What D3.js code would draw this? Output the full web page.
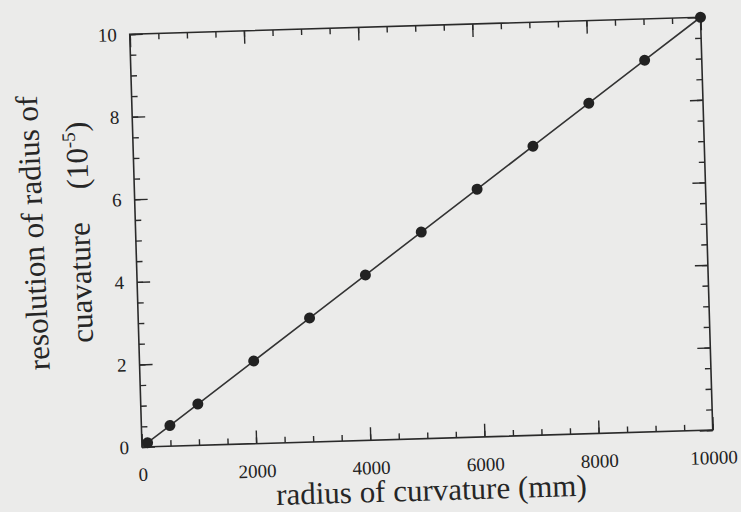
<!DOCTYPE html>
<meta charset="utf-8">
<style>
body { margin: 0; background: #ebebea; }
svg { font-family: "Liberation Serif", "Times New Roman", serif; }
.axis text { font-family: "Liberation Serif", "Times New Roman", serif; font-size: 19px; fill: #222; }
.axis line { stroke: #2a2a2a; stroke-width: 1.4; }
.axis path { display: none; }
.title { fill: #262626; font-size: 31px; }
</style>
<body>
<script src="https://d3js.org/d3.v7.min.js"></script>
<script>
// values
var radius = [100, 500, 1000, 2000, 3000, 4000, 5000, 6000, 7000, 8000, 9000, 10000];
var resolution = [0.1, 0.5, 1, 2, 3, 4, 5, 6, 7, 8, 9, 10];
var xTicks = [0, 2000, 4000, 6000, 8000, 10000];
var yTicks = [0, 2, 4, 6, 8, 10];

var width = 571, height = 413;

var svg = d3.select("body").append("svg")
    .attr("width", 741)
    .attr("height", 512);

svg.append("rect")
    .attr("width", 741)
    .attr("height", 512)
    .attr("fill", "#ebebea");

// the scanned page is slightly tilted
var g = svg.append("g")
    .attr("transform", "translate(142,447) rotate(-1.7) translate(0," + (-height) + ")");

var x = d3.scaleLinear().domain([0, 10000]).range([0, width]);
var y = d3.scaleLinear().domain([0, 10]).range([height, 0]);

// minor ticks on all four sides
g.append("g").attr("class", "axis")
    .attr("transform", "translate(0," + height + ")")
    .call(d3.axisBottom(x).ticks(20).tickSize(-6).tickSizeOuter(0).tickFormat(""));
g.append("g").attr("class", "axis")
    .call(d3.axisTop(x).ticks(20).tickSize(-6).tickSizeOuter(0).tickFormat(""));
g.append("g").attr("class", "axis")
    .call(d3.axisLeft(y).ticks(20).tickSize(-6).tickSizeOuter(0).tickFormat(""));
g.append("g").attr("class", "axis")
    .attr("transform", "translate(" + width + ",0)")
    .call(d3.axisRight(y).ticks(20).tickSize(-6).tickSizeOuter(0).tickFormat(""));

// major ticks + labels
g.append("g").attr("class", "axis")
    .attr("transform", "translate(0," + height + ")")
    .call(d3.axisBottom(x).tickValues(xTicks).tickSize(-13).tickSizeOuter(0).tickPadding(20.5).tickFormat(d3.format("d")));
g.append("g").attr("class", "axis")
    .call(d3.axisTop(x).tickValues(xTicks).tickSize(-13).tickSizeOuter(0).tickFormat(""));
g.append("g").attr("class", "axis")
    .call(d3.axisLeft(y).tickValues(yTicks).tickSize(-13).tickSizeOuter(0).tickPadding(13));
g.append("g").attr("class", "axis")
    .attr("transform", "translate(" + width + ",0)")
    .call(d3.axisRight(y).tickValues(yTicks).tickSize(-13).tickSizeOuter(0).tickFormat(""));

g.append("rect")
    .attr("width", width)
    .attr("height", height)
    .attr("fill", "none")
    .attr("stroke", "#2a2a2a")
    .attr("stroke-width", 1.6);

var line = d3.line()
    .x(function(d, i) { return x(radius[i]); })
    .y(function(d) { return y(d); });

g.append("path")
    .datum(resolution)
    .attr("d", line)
    .attr("fill", "none")
    .attr("stroke", "#333")
    .attr("stroke-width", 1.6);

g.selectAll(".dot")
    .data(resolution)
  .enter().append("circle")
    .attr("class", "dot")
    .attr("r", 5.5)
    .attr("cx", function(d, i) { return x(radius[i]); })
    .attr("cy", function(d) { return y(d); })
    .attr("fill", "#222");

// axis titles
g.append("text")
    .attr("class", "title")
    .attr("x", 288)
    .attr("y", height + 62)
    .attr("text-anchor", "middle")
    .text("radius of curvature (mm)");

g.append("text")
    .attr("class", "title")
    .attr("transform", "translate(-90,333) rotate(-91)")
    .text("resolution of radius of");

var t2 = g.append("text")
    .attr("class", "title")
    .attr("transform", "translate(-46,307) rotate(-90)");
t2.append("tspan").text("cuavature");
t2.append("tspan").attr("dx", 33).text("(10");
t2.append("tspan").attr("dy", -12).style("font-size", "19px").text("-5");
t2.append("tspan").attr("dy", 12).text(")");
</script>
